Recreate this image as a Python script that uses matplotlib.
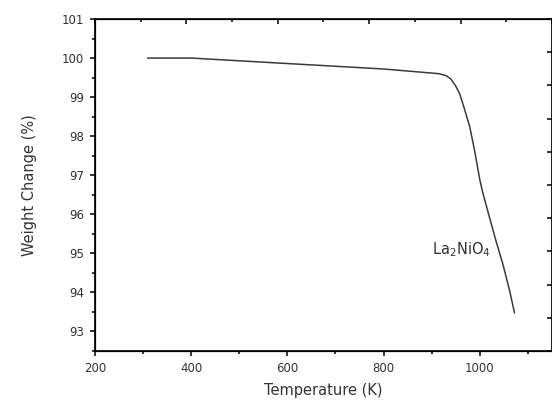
import numpy as np
import matplotlib
matplotlib.use("Agg")
import matplotlib.pyplot as plt
from matplotlib.ticker import MultipleLocator

# TGA curve
temperature = [310, 400, 500, 600, 700, 800, 896, 915, 930, 940, 950, 958, 968,
               979, 989, 1000, 1006, 1017, 1034, 1048, 1062, 1072]
weight = [100.0, 100.0, 99.93, 99.86, 99.79, 99.72, 99.62, 99.60, 99.55, 99.46,
          99.28, 99.09, 98.70, 98.24, 97.64, 96.88, 96.56, 96.06, 95.30, 94.72,
          94.04, 93.48]

label_txt = "La$_2$NiO$_4$"
xlabel = "Temperature (K)"
ylabel = "Weight Change (%)"

txt_col = "#333333"
line_col = "#3a3a3a"

plt.rcParams["font.family"] = "DejaVu Sans"
plt.rcParams["mathtext.default"] = "regular"

fig = plt.figure(figsize=(5.52, 4.01), dpi=100)
ax = fig.add_axes([0.172, 0.1247, 0.828, 0.8279])

ax.plot(temperature, weight, color=line_col, lw=1.1)
ax.text(900, 95.09, label_txt, ha="left", va="center", fontsize=10.5, color=txt_col)

ax.set_xlim(200, 1150)
ax.set_ylim(92.5, 101)
ax.xaxis.set_major_locator(MultipleLocator(200))
ax.xaxis.set_minor_locator(MultipleLocator(100))
ax.yaxis.set_major_locator(MultipleLocator(1))
ax.yaxis.set_minor_locator(MultipleLocator(0.5))

ax.tick_params(which="both", direction="out", width=1.1, colors="black",
               labelcolor=txt_col, labelsize=8.5, pad=4)
ax.tick_params(which="major", length=3.8)
ax.tick_params(which="minor", length=2.2)
ax.set_xticks([200, 400, 600, 800, 1000])

ax.set_xlabel(xlabel, fontsize=10.5, color=txt_col, labelpad=6)
ax.set_ylabel(ylabel, fontsize=10.5, color=txt_col, labelpad=18)

for s in ax.spines.values():
    s.set_linewidth(1.2)

# top and right ticks sit on their own spacing in the picture
top = ax.twiny()
top.set_xlim(0, 10)
top.xaxis.set_major_locator(MultipleLocator(2))
top.xaxis.set_minor_locator(MultipleLocator(1))
top.tick_params(which="both", direction="in", labeltop=False, width=1.1)
top.tick_params(which="major", length=3.5)
top.tick_params(which="minor", length=2.2)

right = ax.twinx()
right.set_ylim(0, 10)
right.yaxis.set_major_locator(MultipleLocator(1))
right.tick_params(which="both", direction="in", labelright=False, width=1.1, length=3.5)

fig.savefig("out.png", dpi=100)
